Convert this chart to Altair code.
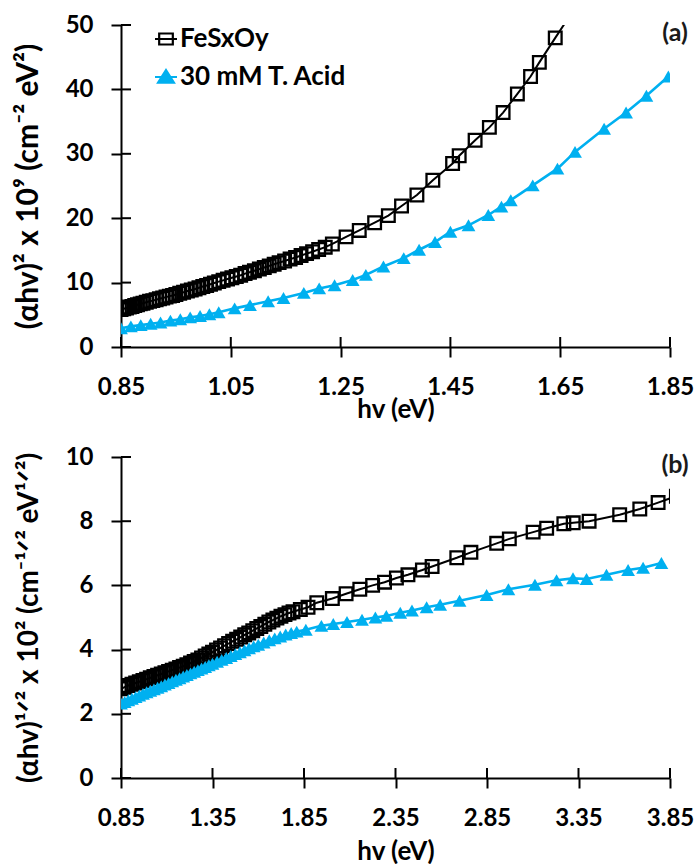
import altair as alt
import pandas as pd

SERIES = ["FeSxOy", "30 mM T. Acid"]
BLACK = "#000000"
BLUE = "#00B0F0"
FONT = "Lato, DejaVu Sans, sans-serif"

# ---- panel (a): (ahv)^2 x 10^9 versus photon energy ----
fe_a_hv = [0.850, 0.855, 0.860, 0.865, 0.870, 0.875, 0.880, 0.885, 0.890, 0.896,
           0.902, 0.908, 0.914, 0.920, 0.926, 0.932, 0.938, 0.944, 0.950, 0.957,
           0.964, 0.971, 0.978, 0.985, 0.992, 0.999, 1.006, 1.013, 1.020, 1.028,
           1.036, 1.044, 1.052, 1.060, 1.068, 1.076, 1.084, 1.093, 1.102, 1.111,
           1.120, 1.129, 1.138, 1.148, 1.158, 1.168, 1.178, 1.188, 1.199, 1.210,
           1.222, 1.235, 1.260, 1.284, 1.312, 1.337, 1.361, 1.389, 1.418, 1.454,
           1.466, 1.495, 1.521, 1.546, 1.572, 1.596, 1.612, 1.641, 1.668]
fe_a_val = [5.80, 5.95, 6.05, 6.20, 6.30, 6.45, 6.55, 6.70, 6.80, 6.95,
            7.10, 7.20, 7.35, 7.50, 7.60, 7.75, 7.90, 8.00, 8.15, 8.35,
            8.50, 8.70, 8.85, 9.00, 9.20, 9.40, 9.55, 9.75, 9.95, 10.15,
            10.35, 10.55, 10.75, 10.95, 11.15, 11.40, 11.60, 11.85, 12.10, 12.35,
            12.60, 12.85, 13.10, 13.35, 13.65, 13.90, 14.20, 14.50, 14.80, 15.15,
            15.50, 16.00, 17.10, 18.10, 19.30, 20.40, 21.90, 23.60, 25.90, 28.50,
            29.70, 32.10, 34.10, 36.40, 39.30, 42.00, 44.20, 48.00, 51.50]

ta_a_hv = [0.850, 0.868, 0.886, 0.904, 0.922, 0.940, 0.958, 0.976, 0.994, 1.011,
           1.028, 1.057, 1.085, 1.118, 1.146, 1.183, 1.211, 1.239, 1.272, 1.296,
           1.328, 1.365, 1.393, 1.422, 1.450, 1.483, 1.519, 1.543, 1.560, 1.600,
           1.645, 1.677, 1.730, 1.770, 1.807, 1.847]
ta_a_val = [2.9, 3.2, 3.4, 3.6, 3.8, 4.1, 4.3, 4.6, 4.8, 5.1,
            5.4, 6.0, 6.5, 7.1, 7.6, 8.4, 9.1, 9.6, 10.4, 11.2,
            12.5, 13.8, 15.1, 16.3, 17.9, 18.9, 20.5, 21.8, 22.8, 25.1,
            27.7, 30.3, 33.9, 36.4, 39.0, 42.0]

# ---- panel (b): (ahv)^1/2 x 10^2 versus photon energy ----
fe_b_hv = [0.850, 0.870, 0.890, 0.910, 0.930, 0.950, 0.970, 0.990, 1.010, 1.030,
           1.050, 1.070, 1.090, 1.110, 1.130, 1.150, 1.170, 1.190, 1.210, 1.230,
           1.250, 1.270, 1.290, 1.310, 1.330, 1.350, 1.372, 1.394, 1.416, 1.438,
           1.460, 1.482, 1.504, 1.526, 1.548, 1.570, 1.592, 1.614, 1.636, 1.658,
           1.680, 1.702, 1.724, 1.746, 1.768, 1.790, 1.830, 1.872, 1.920, 2.005,
           2.080, 2.155, 2.225, 2.290, 2.355, 2.418, 2.497, 2.550, 2.685, 2.762,
           2.903, 2.972, 3.102, 3.176, 3.270, 3.321, 3.408, 3.575, 3.685, 3.785,
           3.885]
fe_b_val = [2.78, 2.83, 2.88, 2.92, 2.96, 3.00, 3.04, 3.08, 3.12, 3.16,
            3.20, 3.24, 3.28, 3.32, 3.36, 3.40, 3.44, 3.48, 3.53, 3.58,
            3.63, 3.68, 3.74, 3.80, 3.86, 3.92, 3.99, 4.05, 4.12, 4.19,
            4.26, 4.32, 4.39, 4.46, 4.52, 4.59, 4.66, 4.72, 4.79, 4.86,
            4.92, 4.98, 5.04, 5.09, 5.14, 5.18, 5.25, 5.32, 5.46, 5.59,
            5.74, 5.88, 6.00, 6.10, 6.23, 6.33, 6.48, 6.59, 6.86, 7.03,
            7.31, 7.45, 7.66, 7.78, 7.92, 7.95, 8.00, 8.20, 8.38, 8.58,
            8.78]

ta_b_hv = [0.850, 0.870, 0.890, 0.910, 0.930, 0.950, 0.970, 0.990, 1.010, 1.030,
           1.050, 1.070, 1.090, 1.110, 1.130, 1.150, 1.170, 1.190, 1.210, 1.230,
           1.250, 1.270, 1.290, 1.310, 1.330, 1.350, 1.375, 1.400, 1.425, 1.450,
           1.475, 1.500, 1.525, 1.550, 1.575, 1.600, 1.630, 1.660, 1.690, 1.720,
           1.750, 1.780, 1.810, 1.860, 1.945, 2.010, 2.085, 2.167, 2.240, 2.300,
           2.376, 2.440, 2.520, 2.594, 2.700, 2.848, 2.967, 3.112, 3.230, 3.320,
           3.394, 3.503, 3.621, 3.703, 3.803]
ta_b_val = [2.32, 2.37, 2.42, 2.47, 2.52, 2.57, 2.62, 2.67, 2.72, 2.76,
            2.81, 2.86, 2.91, 2.96, 3.01, 3.06, 3.11, 3.16, 3.21, 3.26,
            3.31, 3.36, 3.41, 3.46, 3.51, 3.56, 3.62, 3.68, 3.74, 3.80,
            3.86, 3.92, 3.98, 4.04, 4.10, 4.15, 4.22, 4.29, 4.35, 4.41,
            4.47, 4.52, 4.56, 4.62, 4.74, 4.80, 4.86, 4.93, 5.00, 5.05,
            5.15, 5.22, 5.32, 5.40, 5.52, 5.70, 5.88, 6.02, 6.16, 6.22,
            6.20, 6.33, 6.48, 6.55, 6.70]

# legend symbols: a short line with the series marker on it
SQUARE_SYM = "M-1,0H1M-0.62,-0.5H0.62V0.5H-0.62Z"
TRIANGLE_SYM = "M-1,0H1M0,-0.62L0.72,0.52H-0.72Z"

TICK_FONT = 24
XTITLE_FONT = 26
LEGEND_FONT = 26
TICK_LEN = 10


def frame(hv, val, name):
    return pd.DataFrame({"hv": hv, "val": val, "series": name})


def panel(fe, ta, x_dom, x_ticks, y_dom, y_ticks, y_title, y_title_size, tag, w, h,
          leg_xy, x_title_pad):
    xs = alt.Scale(domain=x_dom, nice=False, zero=False)
    ys = alt.Scale(domain=y_dom, nice=False, zero=False)

    main_x = alt.Axis(values=x_ticks, format=".2f", title="hv (eV)", grid=False,
                      tickSize=TICK_LEN, tickWidth=2, domainWidth=2, domainColor=BLACK,
                      tickColor=BLACK, labelPadding=18, titlePadding=x_title_pad,
                      labelFont=FONT, labelFontSize=TICK_FONT, labelFontWeight="bold",
                      labelColor=BLACK, titleFont=FONT, titleFontSize=XTITLE_FONT,
                      titleFontWeight="bold", titleColor=BLACK, labelFlush=False)
    main_y = alt.Axis(values=y_ticks, format="d", title=y_title, grid=False,
                      tickSize=TICK_LEN, tickWidth=2, domainWidth=2, domainColor=BLACK,
                      tickColor=BLACK, labelPadding=18, titlePadding=22,
                      labelFont=FONT, labelFontSize=TICK_FONT, labelFontWeight="bold",
                      labelColor=BLACK, titleFont=FONT, titleFontSize=y_title_size,
                      titleFontWeight="bold", titleColor=BLACK)

    fe_line = alt.Chart(fe).mark_line(color=BLACK, strokeWidth=2, clip=True).encode(
        x=alt.X("hv:Q", scale=xs, axis=main_x), y=alt.Y("val:Q", scale=ys, axis=main_y))
    fe_pts = alt.Chart(fe).mark_point(shape="square", filled=False, color=BLACK, size=160,
                                      strokeWidth=2.3, opacity=1, clip=True).encode(
        x=alt.X("hv:Q", scale=xs, axis=None), y=alt.Y("val:Q", scale=ys, axis=None))
    ta_line = alt.Chart(ta).mark_line(color=BLUE, strokeWidth=2.6, clip=True).encode(
        x=alt.X("hv:Q", scale=xs, axis=None), y=alt.Y("val:Q", scale=ys, axis=None))
    ta_pts = alt.Chart(ta).mark_point(shape="triangle-up", filled=True, color=BLUE, size=190,
                                      opacity=1, clip=True).encode(
        x=alt.X("hv:Q", scale=xs, axis=None), y=alt.Y("val:Q", scale=ys, axis=None))

    # inner halves of the cross-style tick marks
    x_inner = alt.Chart(pd.DataFrame({"v": x_ticks})).mark_rule(color=BLACK, strokeWidth=2).encode(
        x=alt.X("v:Q", scale=xs, axis=None), y=alt.value(h), y2=alt.value(h - TICK_LEN))
    y_inner = alt.Chart(pd.DataFrame({"v": y_ticks})).mark_rule(color=BLACK, strokeWidth=2).encode(
        y=alt.Y("v:Q", scale=ys, axis=None), x=alt.value(0), x2=alt.value(TICK_LEN))

    leg = alt.Legend(title=None, orient="none", legendX=leg_xy[0], legendY=leg_xy[1],
                     symbolSize=484, symbolStrokeWidth=2.2, labelFont=FONT,
                     labelFontSize=LEGEND_FONT, labelFontWeight="bold", labelColor=BLACK,
                     labelOffset=1, rowPadding=12, labelLimit=400)
    legend_layer = alt.Chart(pd.DataFrame({"series": SERIES})).transform_filter(
        "false").mark_point(filled=True, strokeWidth=2, opacity=1).encode(
        shape=alt.Shape("series:N", scale=alt.Scale(domain=SERIES, range=[SQUARE_SYM, TRIANGLE_SYM]), legend=leg),
        stroke=alt.Stroke("series:N", scale=alt.Scale(domain=SERIES, range=[BLACK, BLUE]), legend=leg),
        fill=alt.Fill("series:N", scale=alt.Scale(domain=SERIES, range=["transparent", BLUE]), legend=leg),
    )

    tag_text = alt.Chart(pd.DataFrame({"t": [tag]})).mark_text(
        font=FONT, fontSize=25, fontWeight="bold", color="#1a1a1a", align="center", baseline="middle"
    ).encode(text="t:N", x=alt.value(w + 5), y=alt.value(8))

    return alt.layer(fe_line, fe_pts, ta_line, ta_pts, x_inner, y_inner, legend_layer,
                     tag_text).resolve_axis(x="independent", y="independent").properties(width=w, height=h)


top = panel(frame(fe_a_hv, fe_a_val, SERIES[0]), frame(ta_a_hv, ta_a_val, SERIES[1]),
            [0.85, 1.85], [0.85, 1.05, 1.25, 1.45, 1.65, 1.85],
            [0, 50], [0, 10, 20, 30, 40, 50],
            "(αhv)² x 10⁹ (cm⁻² eV²)", 30, "(a)", 549, 322, (32, 1), -3)
bottom = panel(frame(fe_b_hv, fe_b_val, SERIES[0]), frame(ta_b_hv, ta_b_val, SERIES[1]),
               [0.85, 3.85], [0.85, 1.35, 1.85, 2.35, 2.85, 3.35, 3.85],
               [0, 10], [0, 2, 4, 6, 8, 10],
               "(αhv)¹ᐟ² x 10² (cm⁻¹ᐟ² eV¹ᐟ²)", 28, "(b)", 549, 321, (32, 1), 8)

chart = alt.vconcat(top, bottom, spacing=23).properties(
    padding={"left": 13, "top": 13, "right": 0, "bottom": 0}, background="white"
).configure_view(stroke=None)

chart.save("out.html", embed_options={"renderer": "svg", "actions": False})
